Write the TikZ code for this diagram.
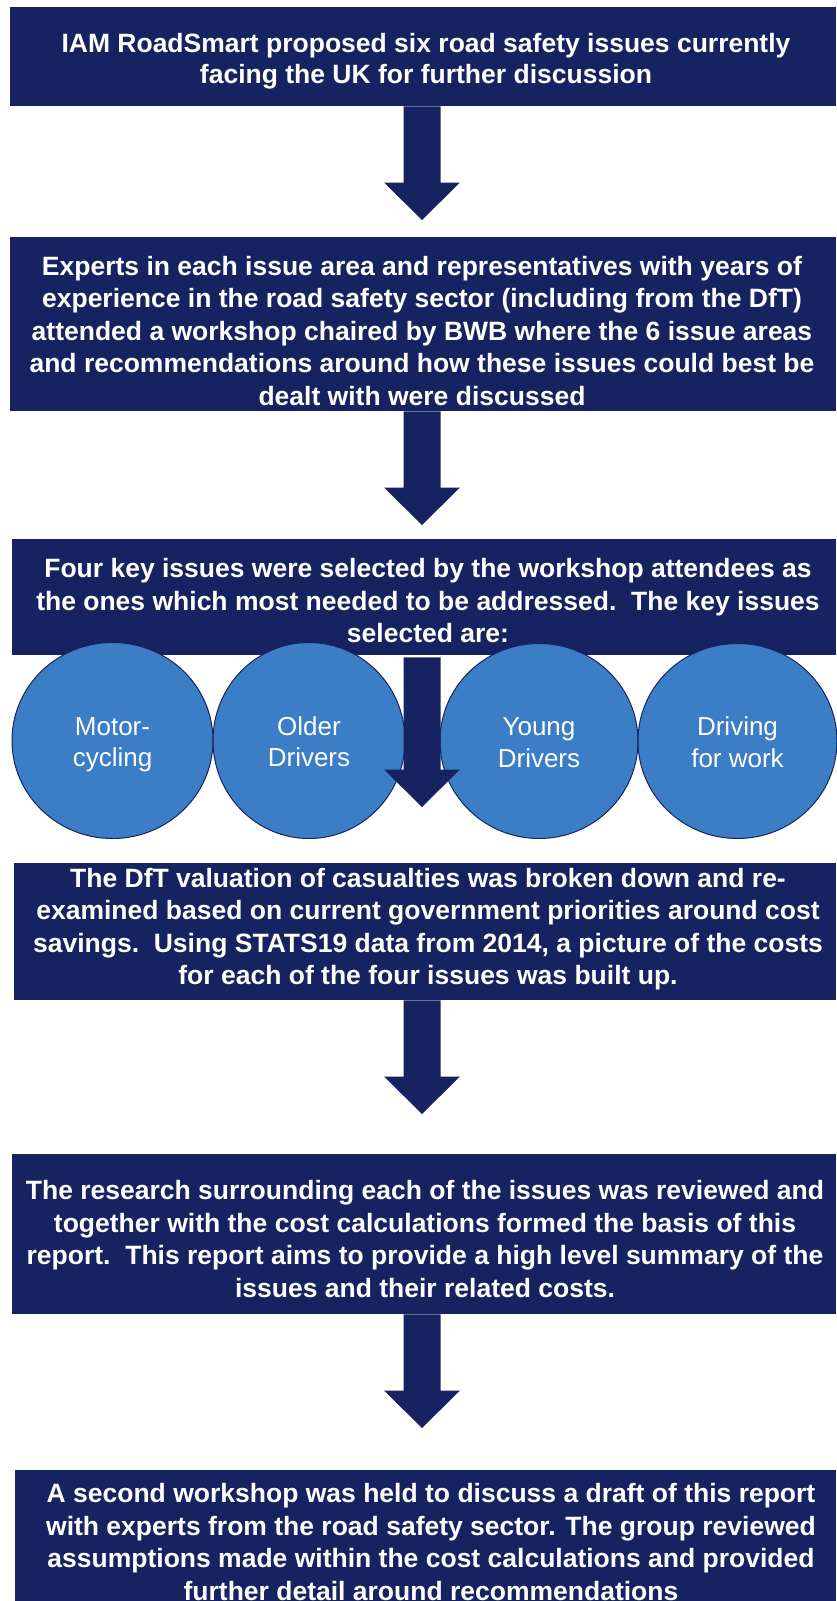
\documentclass[tikz,border=0pt]{standalone}
\usepackage{fontspec}
\setmainfont{Liberation Sans}
\usetikzlibrary{calc,shapes.geometric}
\definecolor{navy}{RGB}{23,35,96}
\definecolor{circblue}{RGB}{59,126,198}
\newcommand\topgap{\rule{0pt}{30pt}}
\tikzset{
  navybox/.style={fill=navy, draw=none, inner sep=0pt, anchor=north west},
  boxtext/.style={text=white, align=center, inner sep=0pt, font=\bfseries\fontsize{26.5}{32.5}\selectfont},
  issue/.style={ellipse, fill=circblue, draw=navy, line width=1pt, inner sep=0pt, text=white, align=center, font=\fontsize{26}{31.5}\selectfont},
  arrowfill/.style={fill=navy}
}
\newcommand\blockarrow[2]{%
  \fill[arrowfill] ($(#1 -| #2)+(-18.5,0)$) -- ($(#2)+(-18.5,-37.5)$) -- ($(#2)+(-38,-37.5)$) -- (#2)
    -- ($(#2)+(38,-37.5)$) -- ($(#2)+(18.5,-37.5)$) -- ($(#1 -| #2)+(18.5,0)$) -- cycle;}
\begin{document}
\begin{tikzpicture}[x=1pt,y=-1pt]
\useasboundingbox (0,0) rectangle (836,1601);
% boxes
\node[navybox, minimum width=826pt, minimum height=99pt] (b1) at (10,7) {};
\node[navybox, minimum width=826pt, minimum height=174pt] (b2) at (10,237) {};
\node[navybox, minimum width=824pt, minimum height=116pt] (b3) at (12,539) {};
\node[navybox, minimum width=822pt, minimum height=137pt] (b4) at (14,863) {};
\node[navybox, minimum width=824pt, minimum height=160pt] (b5) at (12,1154) {};
\node[navybox, minimum width=821pt, minimum height=131pt] (b6) at (15,1470) {};
% texts
\node[boxtext, font=\bfseries\fontsize{26.5}{31}\selectfont] (t1) at (426,61) {IAM RoadSmart proposed six road safety issues currently\\facing the UK for further discussion};
\node[boxtext] (t2) at (422,331) {Experts in each issue area and representatives with years of\\experience in the road safety sector (including from the DfT)\\attended a workshop chaired by BWB where the 6 issue areas\\and recommendations around how these issues could best be\\dealt with were discussed};
\node[boxtext] (t3) at (428,601) {Four key issues were selected by the workshop attendees as\\the ones which most needed to be addressed.\ \ The key issues\\selected are:};
\node[boxtext] (t4) at (428,929) {The DfT valuation of casualties was broken down and re-\\examined based on current government priorities around cost\\savings.\ \ Using STATS19 data from 2014, a picture of the costs\\for each of the four issues was built up.};
\node[boxtext] (t5) at (425,1239) {The research surrounding each of the issues was reviewed and\\together with the cost calculations formed the basis of this\\report.\ \ This report aims to provide a high level summary of the\\issues and their related costs.};
\node[boxtext] (t6) at (431,1542) {A second workshop was held to discuss a draft of this report\\with experts from the road safety sector. The group reviewed\\assumptions made within the cost calculations and provided\\further detail around recommendations};
% ellipses
\node[issue, minimum width=201pt, minimum height=196pt] (e1) at (112.5,740.5) {\topgap Motor-\\cycling\strut};
\node[issue, minimum width=192pt, minimum height=196pt] (e2) at (309,740.5) {\topgap Older\\Drivers\strut};
\node[issue, minimum width=198pt, minimum height=195pt] (e3) at (539,741) {\topgap Young\\Drivers\strut};
\node[issue, minimum width=199pt, minimum height=195pt] (e4) at (737.5,741) {\topgap Driving\\for work\strut};
% arrows
\coordinate (p1) at (422,220);
\coordinate (p2) at (422,525);
\coordinate (p3) at (422,807);
\coordinate (p4) at (422,1114);
\coordinate (p5) at (422,1428);
\blockarrow{b1.south}{p1}
\blockarrow{b2.south}{p2}
\coordinate (s3) at ($(b3.south)+(0,2)$);
\blockarrow{s3}{p3}
\blockarrow{b4.south}{p4}
\blockarrow{b5.south}{p5}
\end{tikzpicture}
\end{document}
